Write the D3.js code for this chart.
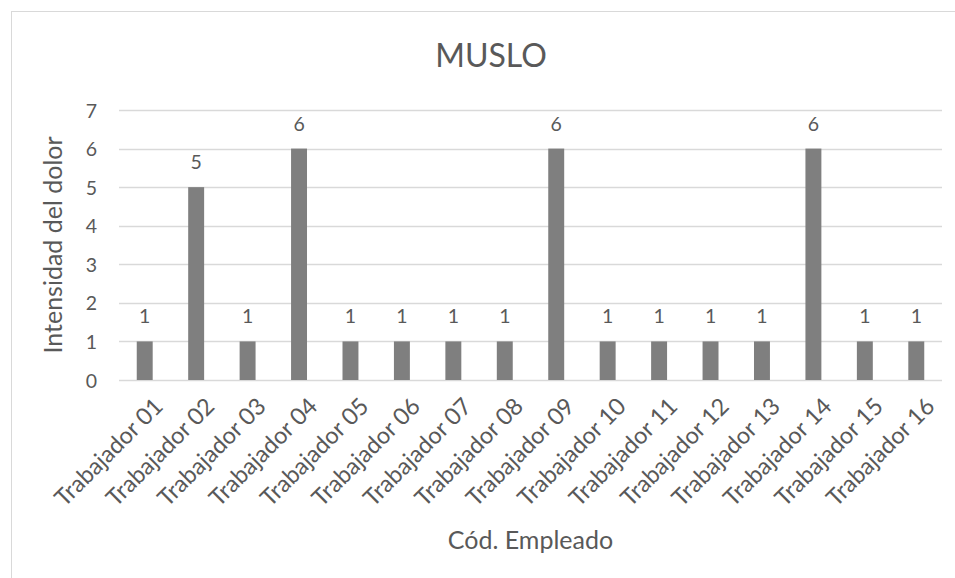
<!DOCTYPE html>
<html>
<head>
<meta charset="utf-8">
<script src="https://cdn.jsdelivr.net/npm/d3@7"></script>
<style>
  html, body { margin: 0; padding: 0; background: #fff; }
  svg { display: block; }
  text { font-family: Lato, "Open Sans", sans-serif; fill: #595959; }
</style>
</head>
<body>
<svg id="chart" width="955" height="578"></svg>
<script>
// Pain intensity (thigh) per employee
const categories = [
  "Trabajador 01", "Trabajador 02", "Trabajador 03", "Trabajador 04",
  "Trabajador 05", "Trabajador 06", "Trabajador 07", "Trabajador 08",
  "Trabajador 09", "Trabajador 10", "Trabajador 11", "Trabajador 12",
  "Trabajador 13", "Trabajador 14", "Trabajador 15", "Trabajador 16"
];
const values = [1, 5, 1, 6, 1, 1, 1, 1, 6, 1, 1, 1, 1, 6, 1, 1];
const yTicks = [0, 1, 2, 3, 4, 5, 6, 7];
const chartTitle = "MUSLO";
const yTitle = "Intensidad del dolor";
const xTitle = "Cód. Empleado";

const svg = d3.select("#chart");
const W = 955, H = 578;
const FONT = "Lato, 'Open Sans', sans-serif";

// outer chart frame
svg.append("rect")
  .attr("x", 11.5).attr("y", 11.5)
  .attr("width", W + 20).attr("height", H + 20)
  .attr("fill", "#fff").attr("stroke", "#d9d9d9").attr("stroke-width", 1);

const plot = { left: 119, right: 942, top: 110, bottom: 380 };

const x = d3.scaleBand()
  .domain(categories)
  .range([plot.left, plot.right])
  .paddingInner(0.69)
  .paddingOuter(0.345);

const y = d3.scaleLinear()
  .domain([0, 7])
  .range([plot.bottom, plot.top]);

// horizontal gridlines
svg.append("g")
  .selectAll("line")
  .data(yTicks)
  .join("line")
  .attr("x1", plot.left).attr("x2", plot.right)
  .attr("y1", d => Math.round(y(d)) + 0.5)
  .attr("y2", d => Math.round(y(d)) + 0.5)
  .attr("stroke", "#d9d9d9").attr("stroke-width", 1.5);

// y axis labels
const yAxis = d3.axisLeft(y).tickValues(yTicks).tickFormat(d3.format("d"))
  .tickSize(0).tickPadding(0);
const gy = svg.append("g")
  .attr("transform", `translate(${plot.left - 22},0)`)
  .call(yAxis);
gy.select(".domain").remove();
gy.selectAll("text")
  .attr("font-size", 19.5)
  .attr("dy", "0.36em")
  .style("font-family", FONT)
  .attr("fill", "#595959");

// bars
svg.append("g")
  .selectAll("rect")
  .data(values)
  .join("rect")
  .attr("x", (d, i) => x(categories[i]))
  .attr("y", d => y(d))
  .attr("width", x.bandwidth())
  .attr("height", d => y(0) - y(d))
  .attr("fill", "#7f7f7f");

// value labels
svg.append("g")
  .selectAll("text")
  .data(values)
  .join("text")
  .attr("x", (d, i) => x(categories[i]) + x.bandwidth() / 2)
  .attr("y", d => y(d) - 18)
  .attr("text-anchor", "middle")
  .attr("font-size", 19.5)
  .text(d => d);

// x axis categories, rotated
const xAxis = d3.axisBottom(x).tickSize(0).tickPadding(0);
const gx = svg.append("g")
  .attr("transform", `translate(0,${plot.bottom})`)
  .call(xAxis);
gx.select(".domain").remove();
gx.selectAll("text")
  .attr("font-size", 23.5)
  .style("font-family", FONT)
  .attr("fill", "#595959")
  .attr("text-anchor", "end")
  .attr("y", 0)
  .attr("transform", "translate(8,16) rotate(-45)")
  .attr("dy", "0.71em");

// title
svg.append("text")
  .attr("x", 491).attr("y", 67)
  .attr("text-anchor", "middle")
  .attr("font-size", 32)
  .text(chartTitle);

// axis titles
svg.append("text")
  .attr("transform", `translate(62,${(plot.top + plot.bottom) / 2}) rotate(-90)`)
  .attr("text-anchor", "middle")
  .attr("font-size", 25)
  .text(yTitle);

svg.append("text")
  .attr("x", (plot.left + plot.right) / 2).attr("y", 549)
  .attr("text-anchor", "middle")
  .attr("font-size", 25)
  .text(xTitle);
</script>
</body>
</html>
